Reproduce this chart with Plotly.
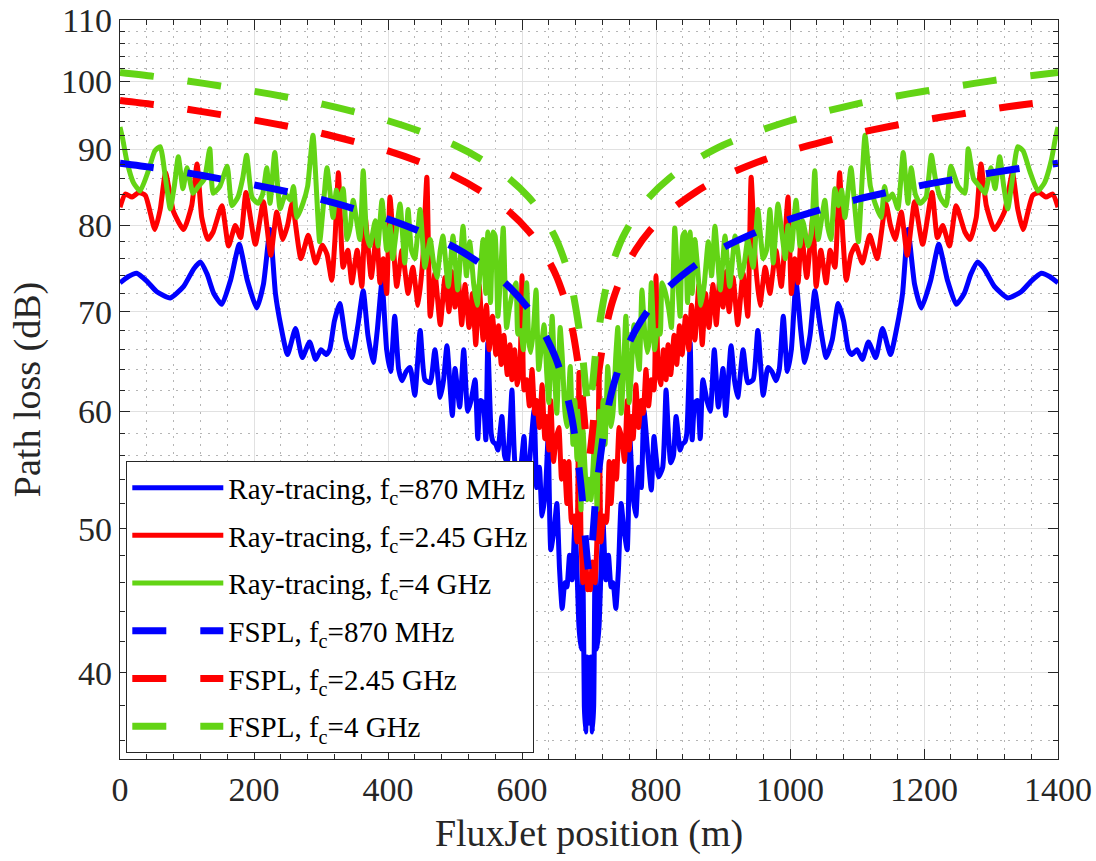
import plotly.graph_objects as go

# ---------------------------------------------------------------------------
# Path loss along the 1400 m FluxJet track (values for the first 700 m;
# the track geometry is symmetric about the 700 m midpoint).
# ---------------------------------------------------------------------------

# Ray-tracing, fc = 870 MHz
rt870_pos = [0, 12, 25, 40, 55, 75, 95, 110, 120, 130, 140, 152, 165, 178, 190, 204, 214, 224, 232, 240,
             250, 262, 272, 283, 292, 300, 308, 313, 320, 328, 337, 346, 355, 363, 370, 378, 384, 391, 398, 404,
             410, 416, 421, 427, 433, 440, 448, 455, 463, 470, 478, 483, 488, 496, 500, 507, 513, 519, 524, 530,
             534, 538, 542, 546, 549, 554, 557, 561, 564, 570, 574, 578, 582, 585, 590, 596, 600, 603, 607, 612,
             618, 622, 626, 630, 635, 639, 643, 648, 652, 656, 660, 664, 667, 671, 675, 679, 682, 685, 688, 691,
             693, 695, 697, 699, 700]
rt870_db = [73.2, 73.9, 74.3, 73.4, 72.2, 71.5, 72.8, 74.8, 75.6, 74.2, 72.0, 70.8, 73.5, 77.7, 73.5, 70.4, 73.0, 79.5, 72.0, 68.5,
            65.5, 68.2, 65.2, 66.8, 65.0, 66.0, 65.5, 66.0, 69.0, 70.9, 67.0, 65.2, 68.5, 72.3, 67.5, 64.7, 68.0, 73.3, 66.0, 63.8,
            69.5, 64.0, 62.9, 63.8, 64.2, 61.5, 68.0, 63.0, 62.7, 66.0, 61.3, 63.0, 66.4, 59.6, 64.1, 60.4, 66.0, 60.0, 61.0, 63.0,
            57.5, 61.0, 60.8, 57.4, 66.7, 58.0, 57.2, 57.0, 56.5, 59.5, 56.0, 55.4, 58.5, 62.0, 55.0, 54.2, 56.0, 57.7, 53.1, 56.0,
            60.1, 53.3, 55.0, 51.0, 53.0, 57.6, 48.4, 50.0, 52.0, 47.0, 44.2, 46.0, 45.7, 48.0, 46.2, 50.5, 47.0, 43.0, 41.5, 47.0,
            38.0, 36.5, 41.0, 37.0, 38.0]

# Ray-tracing, fc = 2.45 GHz
rt245_pos = [0, 8, 18, 28, 38, 52, 60, 68, 80, 95, 107, 115, 122, 131, 139,
             152, 162, 172, 180, 188, 202, 214, 225, 234, 243, 250, 257, 270, 281, 292, 302, 309, 316, 321, 326, 333,
             340, 346, 354, 361, 366, 375, 383, 388, 393, 398, 403, 413, 421, 430, 437, 445, 452, 458, 463, 470,
             478, 485, 491, 495, 500, 505, 510, 515, 521, 526, 531, 536, 542, 547, 551, 556, 561, 565, 569, 573,
             578, 582, 585, 589, 593, 597, 600, 603, 607, 611, 615, 619, 622, 626, 630, 634, 637, 640, 643, 647,
             651, 655, 659, 663, 667, 670, 674, 678, 682, 685, 688, 691, 695, 698, 700]
rt245_db = [82.3, 84.0, 83.6, 84.2, 83.8, 79.5, 82.0, 86.8, 81.7, 79.5, 82.5, 88.0, 81.0, 78.3, 79.2,
            82.5, 77.5, 80.0, 78.5, 84.2, 77.7, 83.0, 76.4, 81.7, 78.3, 80.0, 82.8, 76.0, 78.8, 75.5, 77.6, 76.5, 73.5, 78.5, 86.8, 75.0,
            77.0, 73.2, 77.0, 72.8, 81.0, 73.8, 79.2, 73.2, 76.0, 72.0, 83.6, 72.8, 77.0, 72.0, 75.0, 70.7, 76.0, 86.2, 69.5, 74.3,
            68.6, 73.8, 70.0, 74.5, 70.5, 73.5, 68.6, 73.0, 68.3, 72.0, 66.5, 73.0, 67.0, 70.7, 66.0, 69.5, 65.5, 68.5, 64.5, 67.5,
            63.5, 66.5, 63.0, 66.0, 62.5, 64.3, 74.0, 62.0, 63.0, 60.5, 64.0, 59.8, 61.0, 58.5, 62.5, 57.5, 59.5, 56.5, 61.0, 55.5,
            57.5, 58.5, 54.0, 55.5, 52.0, 55.5, 50.5, 51.0, 49.0, 63.7, 49.5, 46.0, 47.5, 45.5, 46.5]

# Ray-tracing, fc = 4 GHz
rt4_pos = [0, 4, 10, 20, 30, 42, 52, 60, 68, 75, 81, 87, 94, 100, 109, 117, 126, 134, 139, 149,
           160, 167, 176, 183, 189, 197, 206, 213, 219, 224, 231, 239, 247, 254, 259, 264, 273, 280, 288, 298,
           303, 309, 318, 323, 328, 333, 339, 344, 348, 358, 363, 368, 373, 381, 385, 391, 398, 403, 407, 412,
           418, 425, 430, 435, 440, 448, 455, 463, 468, 473, 478, 482, 490, 497, 504, 512, 517, 522, 528, 533,
           538, 542, 546, 549, 553, 557, 560, 564, 568, 572, 577, 581, 587, 591, 594, 598, 602, 607, 610, 613,
           617, 621, 625, 630, 633, 637, 640, 645, 649, 652, 657, 660, 664, 667, 672, 676, 679, 682, 685, 688,
           691, 694, 697, 700]
rt4_db = [93.2, 91.5, 88.5, 85.5, 84.4, 87.0, 89.8, 90.4, 86.0, 82.1, 85.0, 89.0, 84.7, 87.5, 84.1, 85.0, 86.0, 90.1, 84.1, 85.0,
          87.7, 82.5, 83.6, 86.0, 89.2, 83.6, 82.8, 84.0, 87.5, 82.8, 89.6, 82.1, 84.0, 83.2, 85.0, 81.0, 82.8, 85.0, 92.0, 78.0,
          82.0, 87.5, 81.0, 84.5, 82.5, 84.7, 78.3, 80.0, 83.2, 78.3, 87.1, 79.0, 77.5, 80.6, 77.5, 83.2, 77.0, 80.0, 76.0, 79.0,
          82.7, 75.5, 82.0, 77.0, 76.0, 82.0, 75.0, 78.3, 75.5, 73.8, 77.0, 78.7, 72.8, 78.7, 72.4, 79.9, 74.0, 78.0, 73.0, 70.7,
          75.0, 78.3, 72.0, 79.2, 71.0, 79.2, 78.7, 69.5, 74.0, 79.7, 68.3, 70.3, 72.4, 73.2, 67.6, 68.0, 66.0, 73.2, 67.0, 65.7,
          68.0, 72.4, 64.0, 67.0, 68.6, 63.5, 60.8, 69.5, 63.0, 59.8, 68.3, 65.4, 60.0, 58.6, 64.3, 57.0, 61.0, 55.7, 60.0, 51.5,
          58.3, 55.0, 52.3, 54.0]

# Free-space path loss
fspl_pos = [0, 50, 100, 150, 200, 250, 300, 350, 400, 450, 500, 540, 580, 610, 630, 650, 665, 675, 683, 690, 695, 700]
fspl870_db = [88.1, 87.5, 86.8, 86.0, 85.2, 84.3, 83.3, 82.1, 80.8, 79.2, 77.3, 75.3, 72.8, 70.3, 68.1, 65.2, 62.1, 59.2,
              55.9, 52.4, 49.0, 46.8]
fspl245_db = [97.1, 96.5, 95.8, 95.0, 94.2, 93.3, 92.3, 91.1, 89.8, 88.2, 86.3, 84.3, 81.8, 79.3, 77.1, 74.2, 71.1, 68.2,
              64.9, 61.4, 58.0, 55.8]
fspl4_db = [101.4, 100.8, 100.1, 99.3, 98.5, 97.6, 96.6, 95.4, 94.1, 92.5, 90.6, 88.6, 86.1, 83.6, 81.4, 78.5, 75.4, 72.5,
            69.2, 65.7, 62.3, 60.1]

TRACK_LENGTH = 1400
x_ticks = [0, 200, 400, 600, 800, 1000, 1200, 1400]
y_ticks = [40, 50, 60, 70, 80, 90, 100, 110]
y_minor = [36, 38, 42, 44, 46, 48, 52, 54, 56, 58, 62, 64, 66, 68, 72, 74, 76, 78,
           82, 84, 86, 88, 92, 94, 96, 98, 102, 104, 106, 108]
x_minor = [v for v in range(0, TRACK_LENGTH + 1, 40) if v % 200]

BLUE = "#0000FF"
RED = "#FF0000"
GREEN = "#63D415"
INK = "#262626"
FONT = "Liberation Serif, Times New Roman, serif"


def whole_track(pos, val):
    """Extend the 0-700 m half to the full track (mirror about the midpoint)."""
    x = list(pos) + [TRACK_LENGTH - p for p in reversed(pos[:-1])]
    y = list(val) + list(reversed(val[:-1]))
    return x, y


fig = go.Figure()

solid = [
    (rt870_pos, rt870_db, BLUE, "Ray-tracing, f<sub>c</sub>=870 MHz"),
    (rt245_pos, rt245_db, RED, "Ray-tracing, f<sub>c</sub>=2.45 GHz"),
    (rt4_pos, rt4_db, GREEN, "Ray-tracing, f<sub>c</sub>=4 GHz"),
]
for i, (pos, val, col, name) in enumerate(solid):
    x, y = whole_track(pos, val)
    fig.add_trace(go.Scatter(x=x, y=y, mode="lines", name=name, legendgroup=f"rt{i}",
                             line=dict(color=col, width=5, shape="spline", smoothing=0.5)))

dashed = [
    (fspl870_db, BLUE, "FSPL, f<sub>c</sub>=870 MHz"),
    (fspl245_db, RED, "FSPL, f<sub>c</sub>=2.45 GHz"),
    (fspl4_db, GREEN, "FSPL, f<sub>c</sub>=4 GHz"),
]
for i, (val, col, name) in enumerate(dashed):
    x, y = whole_track(fspl_pos, val)
    fig.add_trace(go.Scatter(x=x, y=y, mode="lines", name=name, legendgroup=f"fs{i}",
                             line=dict(color=col, width=7, dash="34px,34px", shape="spline", smoothing=0.8)))

axis_common = dict(
    showline=True, linecolor=INK, linewidth=1.3, mirror="ticks",
    ticks="inside", ticklen=10, tickwidth=1.3, tickcolor=INK,
    showgrid=True, gridcolor="#e1e1e1", gridwidth=1, zeroline=False,
    tickfont=dict(family=FONT, size=34, color=INK),
)

fig.update_xaxes(
    range=[0, TRACK_LENGTH], tickmode="array", tickvals=x_ticks,
    title=dict(text="FluxJet position (m)", font=dict(family=FONT, size=38, color=INK), standoff=12),
    minor=dict(tickmode="array", tickvals=x_minor, ticks="inside", ticklen=5, tickcolor=INK,
               showgrid=True, gridcolor="#b5b5b5", griddash="2px,6px", gridwidth=1),
    **axis_common,
)
fig.update_yaxes(
    type="log", range=[1.5441, 2.04139], tickmode="array", tickvals=y_ticks,
    title=dict(text="Path loss (dB)", font=dict(family=FONT, size=38, color=INK), standoff=8),
    minor=dict(tickmode="array", tickvals=y_minor, ticks="inside", ticklen=5, tickcolor=INK,
               showgrid=True, gridcolor="#b5b5b5", griddash="2px,6px", gridwidth=1),
    **axis_common,
)

fig.update_layout(
    width=1096, height=861,
    margin=dict(l=120, r=38, t=20, b=102, autoexpand=False),
    paper_bgcolor="white", plot_bgcolor="white",
    font=dict(family=FONT, color=INK),
    showlegend=True,
    legend=dict(
        x=0.0064, y=0.0081, xanchor="left", yanchor="bottom",
        bgcolor="white", bordercolor=INK, borderwidth=1.3,
        font=dict(family=FONT, size=29, color="black"),
        itemwidth=91, traceorder="grouped", tracegroupgap=7,
    ),
)

fig.write_html("out.html")
